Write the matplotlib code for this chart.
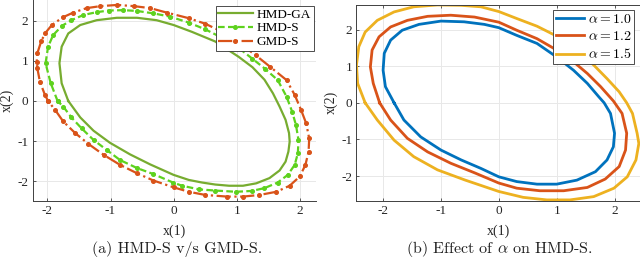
import matplotlib
matplotlib.use("Agg")
import matplotlib.pyplot as plt

# ---------------- data ----------------
# Panel (a)
ga_x = [-1.67, -1.775, -1.81, -1.775, -1.67, -1.48, -1.22, -0.90, -0.58, -0.27, 0.0, 0.29, 0.66, 1.03, 1.25,
        1.44, 1.575, 1.68, 1.775, 1.83, 1.84, 1.82, 1.775, 1.68, 1.52, 1.31, 1.10, 0.88, 0.66, 0.45, 0.24,
        0.0, -0.37, -0.69, -1.01, -1.27, -1.48, -1.67]
ga_y = [0.0, 0.44, 0.94, 1.35, 1.68, 1.89, 2.01, 2.07, 2.07, 2.01, 1.89, 1.72, 1.48, 1.10, 0.84,
        0.53, 0.19, -0.14, -0.47, -0.80, -1.01, -1.26, -1.51, -1.73, -1.92, -2.05, -2.11, -2.11, -2.08, -2.03, -1.965,
        -1.84, -1.58, -1.33, -1.04, -0.74, -0.41, 0.0]

hs_x = [-1.84, -1.95, -2.03, -1.99, -1.91, -1.77, -1.62, -1.43, -1.22, -1.03, -0.80, -0.58, -0.32, -0.06,
        0.24, 0.505, 0.77, 1.03, 1.25, 1.45, 1.65, 1.79, 1.88, 1.94, 1.98, 1.97, 1.92, 1.81, 1.65, 1.44,
        1.235, 0.99, 0.66, 0.40, 0.135, -0.01, -0.32, -0.58, -0.85, -1.06, -1.27, -1.46, -1.62, -1.75, -1.84]
hs_y = [0.0, 0.45, 0.94, 1.35, 1.64, 1.87, 2.01, 2.14, 2.21, 2.25, 2.26, 2.24, 2.18, 2.10,
        1.95, 1.78, 1.57, 1.32, 1.05, 0.80, 0.52, 0.11, -0.27, -0.60, -0.97, -1.30, -1.59, -1.84, -2.03, -2.17,
        -2.24, -2.26, -2.23, -2.20, -2.11, -2.03, -1.82, -1.67, -1.47, -1.22, -0.97, -0.68, -0.41, -0.14, 0.0]

gm_x = [-1.99, -2.04, -2.12, -2.16, -2.17, -2.16, -2.10, -2.04, -1.93, -1.76, -1.59, -1.38, -1.16, -0.89,
        -0.63, -0.37, -0.11, 0.24, 0.505, 0.77, 1.03, 1.30, 1.53, 1.79, 1.92, 2.02, 2.10, 2.15, 2.14, 2.09,
        2.0, 1.84, 1.63, 1.36, 1.10, 0.85, 0.505, 0.24, 0.0, -0.32, -0.58, -0.85, -1.11, -1.35, -1.56, -1.75,
        -1.88, -1.99]
gm_y = [0.0, 0.15, 0.48, 0.81, 0.98, 1.19, 1.48, 1.68, 1.89, 2.08, 2.20, 2.31, 2.36, 2.39,
        2.36, 2.31, 2.20, 2.06, 1.92, 1.72, 1.45, 1.14, 0.85, 0.52, 0.15, -0.22, -0.55, -0.93, -1.26, -1.59,
        -1.88, -2.11, -2.26, -2.34, -2.38, -2.38, -2.34, -2.26, -2.15, -1.98, -1.80, -1.59, -1.34, -1.07, -0.80, -0.51,
        -0.22, 0.0]

# Panel (b)
a10_x = [-1.81, -1.96, -2.0, -1.98, -1.87, -1.67, -1.38, -1.0, -0.60, -0.25, 0.0, 0.31, 0.66, 1.0, 1.29, 1.53,
         1.73, 1.82, 1.93, 2.0, 1.98, 1.87, 1.67, 1.35, 1.0, 0.66, 0.31, 0.0, -0.31, -0.65, -1.0, -1.35, -1.64, -1.81]
a10_y = [0.0, 0.44, 0.89, 1.35, 1.71, 1.98, 2.14, 2.23, 2.21, 2.14, 2.05, 1.84, 1.62, 1.25, 0.89, 0.53,
         0.16, 0.0, -0.29, -0.83, -1.20, -1.56, -1.88, -2.11, -2.22, -2.22, -2.15, -2.02, -1.79, -1.56, -1.29, -0.93, -0.47, 0.0]

a12_x = [-2.06, -2.17, -2.22, -2.19, -2.07, -1.87, -1.58, -1.23, -0.83, -0.42, 0.0, 0.31, 0.66, 1.0, 1.29, 1.53,
         1.76, 1.98, 2.13, 2.21, 2.19, 2.08, 1.84, 1.53, 1.12, 0.71, 0.31, 0.0, -0.42, -0.83, -1.23, -1.58, -1.87, -2.06]
a12_y = [0.0, 0.53, 0.98, 1.44, 1.80, 2.07, 2.25, 2.36, 2.39, 2.34, 2.20, 1.98, 1.75, 1.44, 1.12, 0.80,
         0.44, 0.05, -0.29, -0.83, -1.29, -1.74, -2.08, -2.31, -2.40, -2.40, -2.33, -2.19, -1.91, -1.65, -1.34, -0.97, -0.47, 0.0]

a15_x = [-2.31, -2.44, -2.46, -2.42, -2.31, -2.10, -1.81, -1.47, -1.06, -0.65, -0.31, 0.0, 0.31, 0.66, 1.0,
         1.35, 1.64, 1.87, 2.08, 2.21, 2.31, 2.39, 2.42, 2.37, 2.22, 1.99, 1.64, 1.23, 0.83, 0.42, 0.0, -0.58,
         -1.06, -1.47, -1.81, -2.10, -2.31]
a15_y = [0.0, 0.53, 1.03, 1.53, 1.93, 2.25, 2.48, 2.62, 2.67, 2.66, 2.62, 2.49, 2.30, 2.09, 1.82,
         1.44, 1.03, 0.66, 0.30, 0.0, -0.29, -0.83, -1.11, -1.56, -2.02, -2.33, -2.56, -2.65, -2.65, -2.58, -2.42, -2.11,
         -1.83, -1.47, -1.02, -0.47, 0.0]

labels_a = ["HMD-GA", "HMD-S", "GMD-S"]
labels_b = [r"$\alpha = 1.0$", r"$\alpha = 1.2$", r"$\alpha = 1.5$"]
ticks_x = [-2, -1, 0, 1, 2]
ticks_y = [-2, -1, 0, 1, 2]
caption_a = "(a) HMD-S v/s GMD-S."
caption_b = r"(b) Effect of $\alpha$ on HMD-S."

# ---------------- style ----------------
plt.rcParams['font.family'] = ['Liberation Serif', 'DejaVu Serif']
plt.rcParams['mathtext.fontset'] = 'cm'
plt.rcParams['axes.unicode_minus'] = False

FS_TICK = 9.5
FS_LAB = 10
TXT = '#262626'
GRID = '#e8e8e8'

fig = plt.figure(figsize=(6.4, 2.64), dpi=100)
ax1 = fig.add_axes([0.051, 0.2386, 0.443, 0.761])
ax2 = fig.add_axes([0.557, 0.2386, 0.443, 0.744])


def style(ax, top=False):
    ax.grid(True, color=GRID, lw=0.7)
    ax.set_axisbelow(True)
    ax.tick_params(direction='in', length=2.5, width=0.6, colors='#404040', labelsize=FS_TICK,
                   labelcolor=TXT, pad=3, top=top)
    for s in ['left', 'bottom']:
        ax.spines[s].set_color('#404040')
        ax.spines[s].set_linewidth(0.7)
    ax.spines['right'].set_visible(False)
    ax.spines['top'].set_visible(top)
    if top:
        ax.spines['top'].set_color('#404040')
        ax.spines['top'].set_linewidth(0.7)
    ax.set_xlabel("x(1)", fontsize=FS_LAB, color=TXT)
    ax.set_ylabel("x(2)", fontsize=FS_LAB, color=TXT)


# Panel (a)
ax1.plot(ga_x, ga_y, color='#77AC30', lw=1.6, label=labels_a[0])
ax1.plot(hs_x, hs_y, color='#5ED21E', lw=1.6, ls=(0, (3, 1.5)), marker='o', ms=2.6, label=labels_a[1])
ax1.plot(gm_x, gm_y, color='#D95319', lw=1.6, ls='-.', marker='o', ms=2.6, label=labels_a[2])
ax1.set_xlim(-2.235, 2.26)
ax1.set_ylim(-2.49, 2.51)
ax1.set_xticks(ticks_x)
ax1.set_yticks(ticks_y)
style(ax1)
ax1.xaxis.set_label_coords(0.5, -0.115)
ax1.yaxis.set_label_coords(-0.066, 0.5)
leg1 = ax1.legend(loc='upper right', bbox_to_anchor=(1.0, 0.985), fontsize=9.5, frameon=True,
                  fancybox=False, edgecolor='#303030', framealpha=1, borderpad=0.2, labelspacing=0.12,
                  handlelength=2.6, handletextpad=0.3, borderaxespad=0.2)
leg1.get_frame().set_linewidth(0.6)

# Panel (b)
ax2.plot(a10_x, a10_y, color='#0072BD', lw=2.0, label=labels_b[0])
ax2.plot(a12_x, a12_y, color='#D95319', lw=2.0, label=labels_b[1])
ax2.plot(a15_x, a15_y, color='#EDB120', lw=2.0, label=labels_b[2])
ax2.set_xlim(-2.46, 2.44)
ax2.set_ylim(-2.68, 2.68)
ax2.set_xticks(ticks_x)
ax2.set_yticks(ticks_y)
style(ax2, top=True)
ax2.xaxis.set_label_coords(0.5, -0.12)
ax2.yaxis.set_label_coords(-0.066, 0.5)
leg2 = ax2.legend(loc='upper right', bbox_to_anchor=(0.99, 0.985), fontsize=10, frameon=True,
                  fancybox=False, edgecolor='#303030', framealpha=1, borderpad=0.2, labelspacing=0.3,
                  handlelength=2.0, handletextpad=0.3, borderaxespad=0.2)
leg2.get_frame().set_linewidth(0.6)

fig.text(0.277, 0.058, caption_a, ha='center', va='center', fontsize=11.5, family=['cmr10'],
         color='#202020')
fig.text(0.781, 0.058, caption_b, ha='center', va='center', fontsize=11.5, family=['cmr10'],
         color='#202020')

fig.savefig("out.png", dpi=100)
